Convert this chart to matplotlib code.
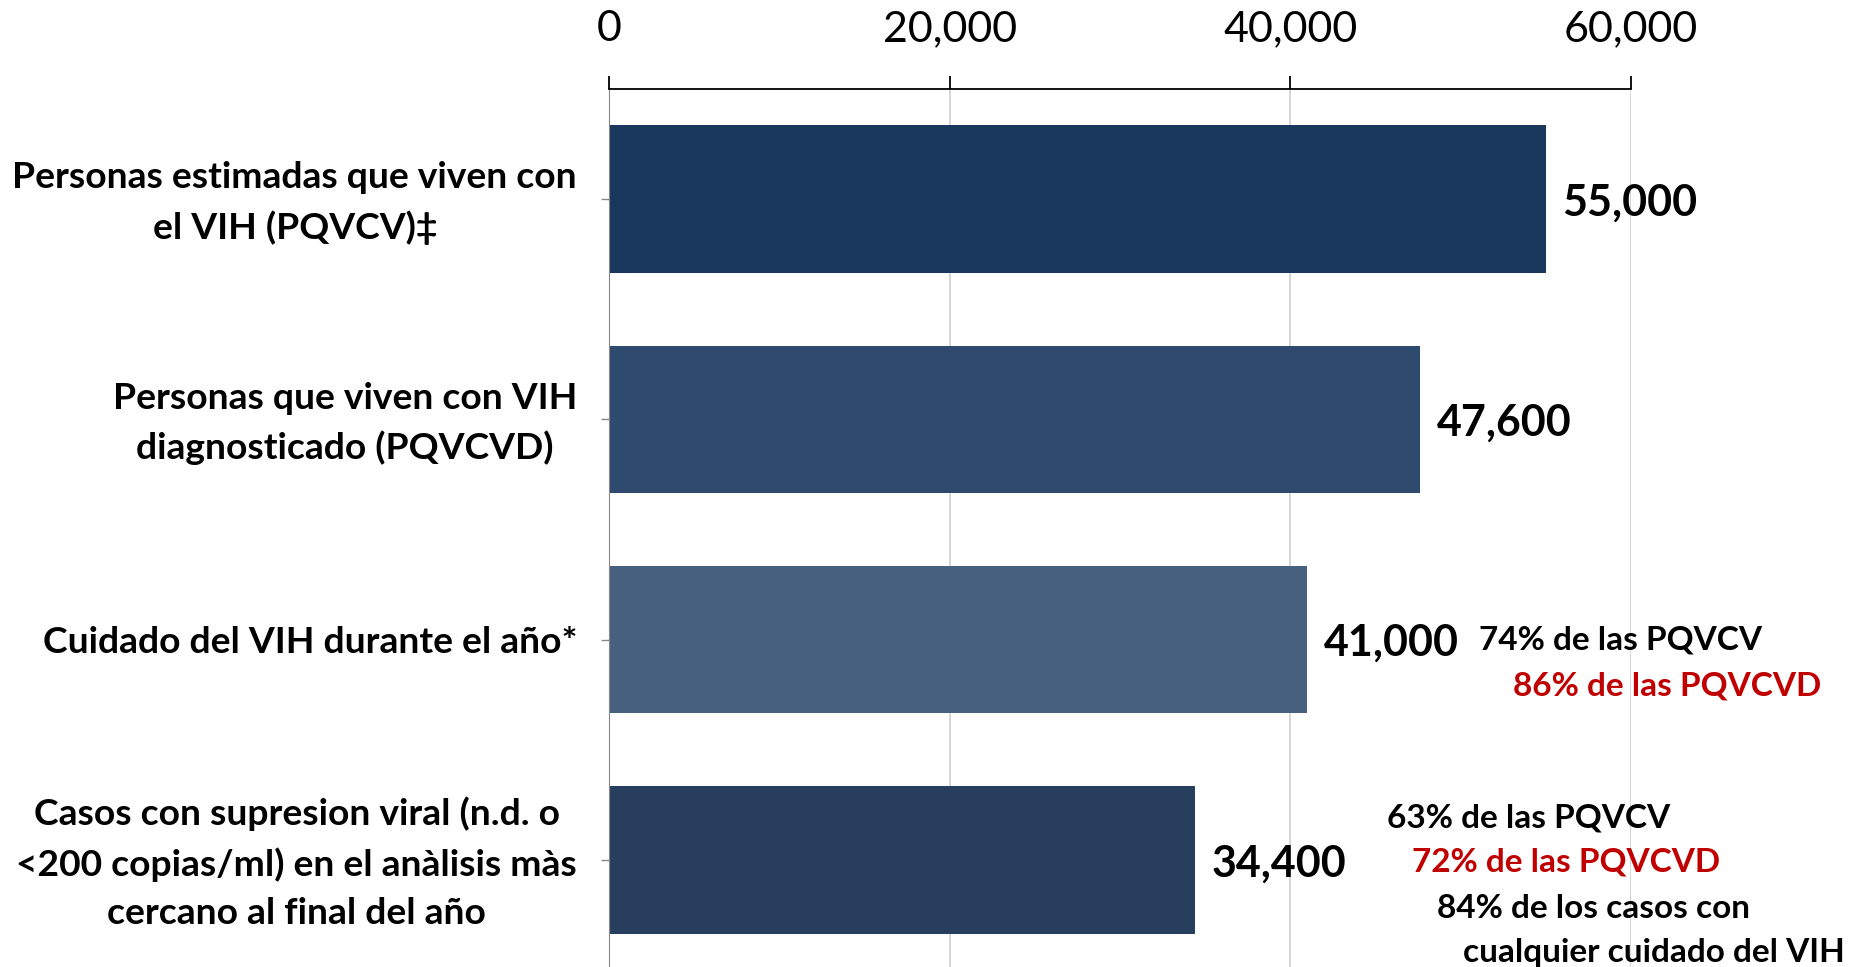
import matplotlib
matplotlib.use("Agg")
import matplotlib.pyplot as plt
from matplotlib.transforms import ScaledTranslation

plt.rcParams['font.family'] = ['Lato', 'DejaVu Sans']

categories = [
    "Personas estimadas que viven con\nel VIH (PQVCV)\u2021",
    "Personas que viven con VIH\ndiagnosticado (PQVCVD)",
    "Cuidado del VIH durante el a\u00f1o*",
    "Casos con supresion viral (n.d. o\n<200 copias/ml) en el an\u00e0lisis m\u00e0s\ncercano al final del a\u00f1o",
]
values = [55000, 47600, 41000, 34400]
bar_colors = ["#1a375e", "#2e4a6e", "#47607f", "#273e5f"]
xticks = [0, 20000, 40000, 60000]

# side notes: (text, colour, x in data units, y in category units)
notes = [
    ("74% de las PQVCV", "black", 51100, 1.99),
    ("86% de las PQVCVD", "#c00000", 53050, 2.20),
    ("63% de las PQVCV", "black", 45700, 2.80),
    ("72% de las PQVCVD", "#c00000", 47150, 3.00),
    ("84% de los casos con", "black", 48600, 3.21),
    ("cualquier cuidado del VIH", "black", 50150, 3.41),
]

fig = plt.figure(figsize=(18.59, 9.67), dpi=100)
ax = fig.add_axes([0.3276, -0.003, 0.5498, 0.911])

ypos = list(range(len(values)))
ax.barh(ypos, values, height=0.67, color=bar_colors, zorder=2)

for y, v in zip(ypos, values):
    ax.annotate(f"{v:,}", (v, y), xytext=(12, 0), textcoords="offset points",
                ha="left", va="center_baseline", fontsize=31, fontweight="bold")

for txt, col, x, y in notes:
    ax.text(x, y, txt, color=col, ha="left", va="center_baseline",
            fontsize=24, fontweight="bold", clip_on=False)

ax.set_xlim(0, 60000)
ax.set_ylim(3.5, -0.5)
ax.set_xticks(xticks)
ax.set_xticklabels([f"{t:,}" for t in xticks])
ax.xaxis.tick_top()
ax.tick_params(axis="x", direction="out", length=9.5, width=1.3, color="black",
               labelsize=31, pad=20)
ax.set_yticks(ypos)
ax.set_yticklabels(categories, fontsize=26.8, fontweight="bold",
                   multialignment="center", linespacing=1.55)
ax.tick_params(axis="y", direction="out", length=6, width=1, color="#888888", pad=17)
# multi-line labels sit a bit low, nudge them up
for lbl in ax.get_yticklabels():
    if "\n" in lbl.get_text():
        lbl.set_transform(lbl.get_transform() + ScaledTranslation(0, 5 / 72, fig.dpi_scale_trans))

ax.grid(axis="x", color="#d0d0d0", linewidth=1.2, zorder=0)
ax.spines["right"].set_visible(False)
ax.spines["bottom"].set_visible(False)
ax.spines["top"].set_color("black")
ax.spines["top"].set_linewidth(1.3)
ax.spines["left"].set_color("#888888")

fig.savefig("out.png", dpi=100)
